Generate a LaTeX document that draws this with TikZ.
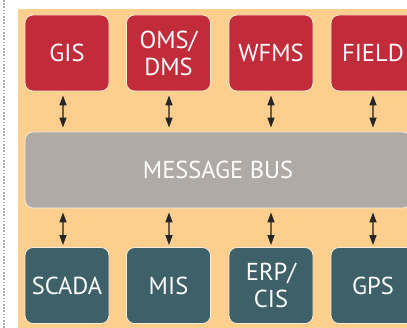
\documentclass[tikz,border=0pt]{standalone}
\usepackage{fontspec}
\setmainfont{PT Sans}
\usetikzlibrary{arrows.meta}
\definecolor{panel}{HTML}{FCCF8E}
\definecolor{appred}{HTML}{C12B3A}
\definecolor{appteal}{HTML}{3E6068}
\definecolor{busgray}{HTML}{AFAAA6}
\definecolor{rim}{HTML}{FBEBD6}
\definecolor{shaft}{HTML}{6B5A45}
\definecolor{rule}{HTML}{A8A8A8}
\tikzset{
  sysbox/.style={rounded corners=8pt, draw=rim, line width=0.8pt,
    minimum width=84pt, minimum height=76pt, inner sep=0pt,
    text=white, font=\fontsize{24.5}{27}\selectfont, align=center},
  upper/.style={sysbox, fill=appred},
  lower/.style={sysbox, fill=appteal},
  link/.style={draw=shaft, line width=1.3pt,
    {Triangle[width=7pt,length=10pt,color=black!85]}-{Triangle[width=7pt,length=10pt,color=black!85]}}
}
\begin{document}
\begin{tikzpicture}[x=1pt,y=-1pt]
  \useasboundingbox (0,0) rectangle (407,328);
  \clip (0,0) rectangle (407,328);
  % dotted margin rule and panel
  \draw[rule, line width=1.6pt, dash pattern=on 1.6pt off 1.6pt] (4,0) -- (4,328);
  \fill[panel] (18,9) rectangle (407,328);
  % application systems
  \node[upper] (gis)   at (67,53)    {GIS};
  \node[upper] (oms)   at (168.5,53) {OMS/\\DMS};
  \node[upper] (wfms)  at (271,53)   {WFMS};
  \node[upper] (field) at (373,53)   {FIELD};
  % bus
  \node[sysbox, fill=busgray, minimum width=386pt] (bus) at (218,170) {MESSAGE BUS};
  % lower systems
  \node[lower] (scada) at (67,285.5)    {SCADA};
  \node[lower] (mis)   at (168.5,285.5) {MIS};
  \node[lower] (erp)   at (271,285.5)   {ERP/\\CIS};
  \node[lower] (gps)   at (373,285.5)   {GPS};
  % links
  \foreach \n/\dx in {gis/-4, oms/0.5, wfms/0, field/0} {
    \draw[link, shorten <=4pt, shorten >=4pt]
      ([xshift=\dx pt]\n.south) -- ([xshift=\dx pt]\n.south |- bus.north);
  }
  \foreach \n/\dx in {scada/-4, mis/0.5, erp/0, gps/0} {
    \draw[link, shorten <=4pt, shorten >=2pt]
      ([xshift=\dx pt]\n.north |- bus.south) -- ([xshift=\dx pt]\n.north);
  }
\end{tikzpicture}
\end{document}
